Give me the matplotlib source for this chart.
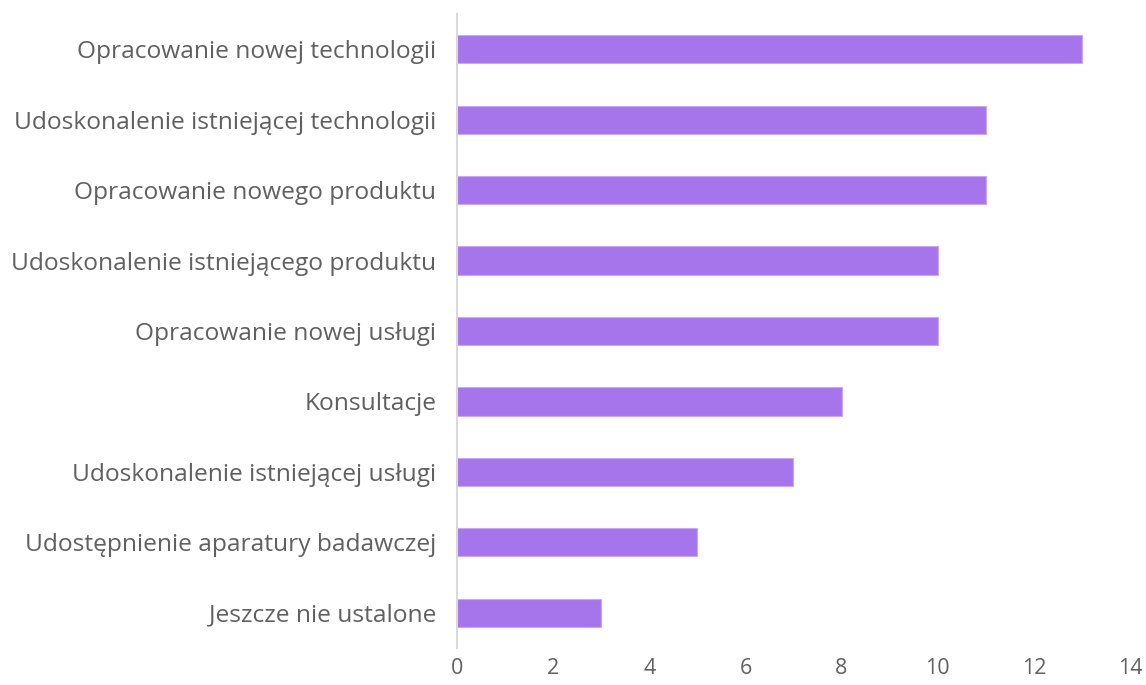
import matplotlib
matplotlib.use("Agg")
import matplotlib.pyplot as plt

categories = [
    "Opracowanie nowej technologii",
    "Udoskonalenie istniejącej technologii",
    "Opracowanie nowego produktu",
    "Udoskonalenie istniejącego produktu",
    "Opracowanie nowej usługi",
    "Konsultacje",
    "Udoskonalenie istniejącej usługi",
    "Udostępnienie aparatury badawczej",
    "Jeszcze nie ustalone",
]
values = [13, 11, 11, 10, 10, 8, 7, 5, 3]
xticks = [0, 2, 4, 6, 8, 10, 12, 14]

plt.rcParams['font.family'] = ['Open Sans', 'DejaVu Sans']

fig = plt.figure(figsize=(11.46, 6.85), dpi=100)
ax = fig.add_axes([0.3988, 0.054, 0.986 - 0.3988, 0.9796 - 0.054])

ypos = list(range(len(categories)))
ax.barh(ypos, values, height=0.4, color="#A675EC", edgecolor="#C9A8F4", linewidth=0.8)
ax.set_ylim(len(categories) - 0.5, -0.5)
ax.set_xlim(0, 14)
ax.set_yticks(ypos)
ax.set_yticklabels(categories)
ax.set_xticks(xticks)
ax.set_xticklabels([str(t) for t in xticks])

for s in ["top", "right", "bottom"]:
    ax.spines[s].set_visible(False)
ax.spines["left"].set_color("#D9D9D9")
ax.spines["left"].set_linewidth(1.5)

ax.tick_params(axis="y", length=0, pad=15, labelsize=14, labelcolor="#606060")
ax.tick_params(axis="x", length=0, pad=7, labelsize=15.5, labelcolor="#606060")

# scale font so longest label is ~426 px wide
fig.canvas.draw()
r = fig.canvas.get_renderer()
w = max(t.get_window_extent(r).width for t in ax.get_yticklabels())
size = 14 * 426.0 / w
ax.tick_params(axis="y", labelsize=size)

fig.savefig("out.png", dpi=100)
